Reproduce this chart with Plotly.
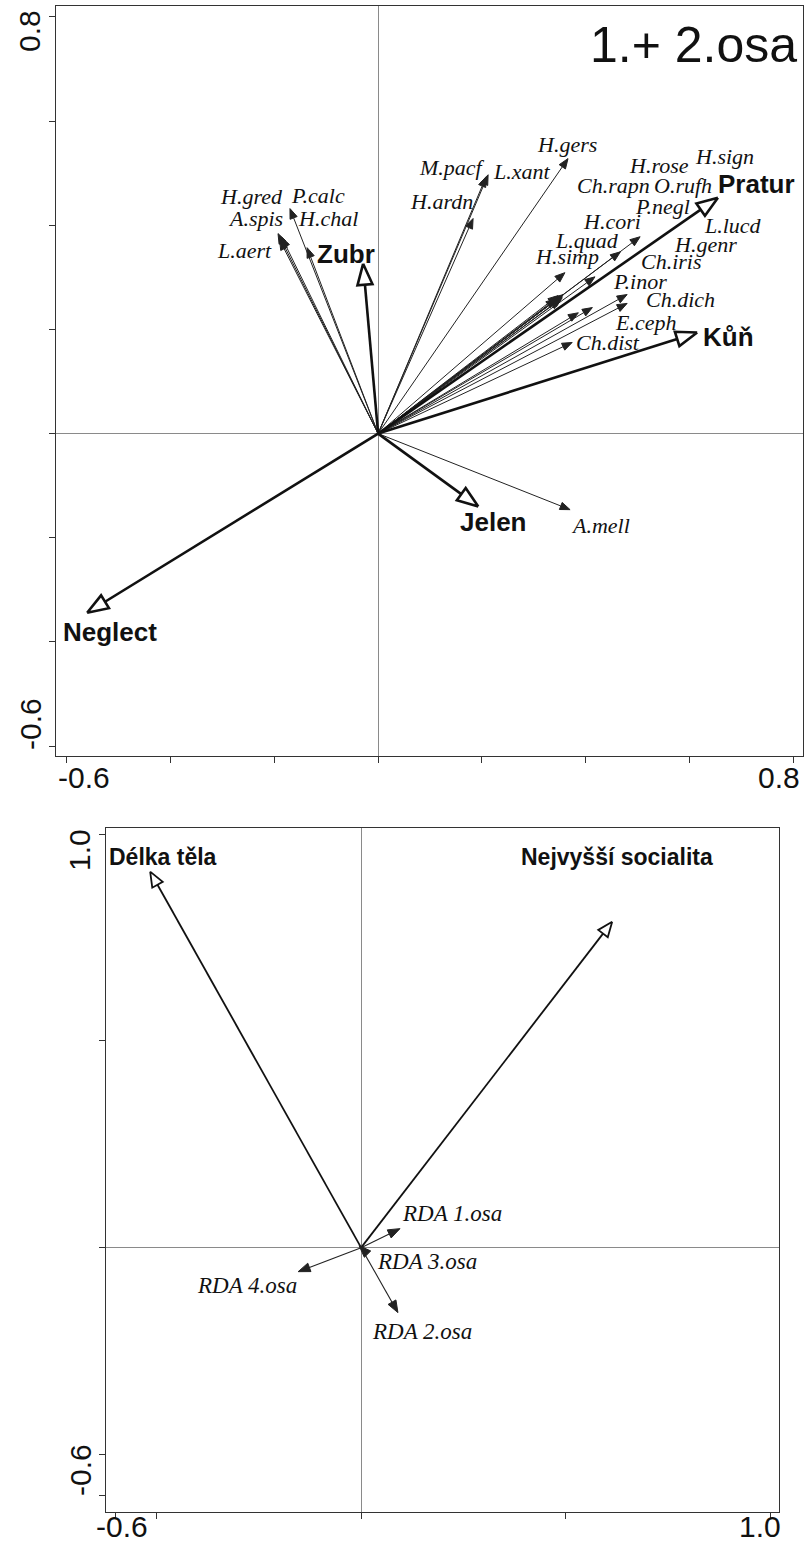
import math
import plotly.graph_objects as go

W, H = 804, 1544

# ---------------- DATA: top chart (1.+2. osa) ----------------
species = ["H.gred", "A.spis", "L.aert", "P.calc", "H.chal", "M.pacf", "L.xant", "H.ardn",
           "H.gers", "H.rose", "H.sign", "Ch.rapn", "O.rufh", "P.negl", "H.cori", "L.lucd",
           "L.quad", "H.genr", "H.simp", "Ch.iris", "P.inor", "Ch.dich", "E.ceph", "Ch.dist",
           "A.mell"]
species_x = [-0.193, -0.186, -0.190, -0.170, -0.137, 0.208, 0.212, 0.183,
             0.366, 0.355, 0.343, 0.357, 0.351, 0.351, 0.505, 0.413,
             0.467, 0.347, 0.360, 0.418, 0.480, 0.480, 0.386, 0.374,
             0.370]
species_y = [0.384, 0.377, 0.372, 0.432, 0.357, 0.493, 0.497, 0.413,
             0.528, 0.261, 0.259, 0.267, 0.257, 0.263, 0.378, 0.242,
             0.349, 0.265, 0.309, 0.301, 0.267, 0.250, 0.232, 0.175,
             -0.146]

env = ["Zubr", "Pratur", "Kůň", "Jelen", "Neglect"]
env_x = [-0.029, 0.655, 0.615, 0.193, -0.561]
env_y = [0.326, 0.453, 0.194, -0.140, -0.344]

top_ticks = [-0.6, -0.4, -0.2, 0.0, 0.2, 0.4, 0.6, 0.8]
top_labels = ["-0.6", "0.8"]
title_text = "1.+ 2.osa"

# ---------------- DATA: bottom chart ----------------
traits = ["Délka těla", "Nejvyšší socialita"]
traits_x = [-0.516, 0.614]
traits_y = [0.909, 0.788]

axes_vars = ["RDA 1.osa", "RDA 2.osa", "RDA 3.osa", "RDA 4.osa"]
axes_x = [0.095, 0.090, -0.005, -0.154]
axes_y = [0.046, -0.157, 0.005, -0.058]

bot_ticks = [-0.6, -0.5, 0.0, 0.5, 1.0]
bot_labels = ["-0.6", "1.0"]

# ---------------- label offsets (pixels: right, down) ----------------
species_off = [(-27, -37), (-26, -19), (-35, 11), (28, -13), (21, -29), (-34, -9), (34, -3),
               (-32, -17), (-1, -14), (97, -132), (168, -142), (50, -109), (123, -114),
               (102, -90), (-28, -15), (141, -82), (-33, -11), (147, -51), (2, -16),
               (77, -15), (13, -13), (53, -4), (67, 10), (36, 0), (30, 16)]
env_off = [(-17, -10), (39, -14), (31, 4), (15, 15), (23, 19)]
traits_off = [(13, -15), (5, -65)]
axes_off = [(52, -15), (24, 19), (68, 16), (-51, 14)]

# ---------------- layout geometry ----------------
top_px = dict(l=56, r=803, t=6, b=756)
top_xr = [-0.621, 0.819]
top_yr = [-0.619, 0.821]
bot_px = dict(l=106, r=779, t=828, b=1512)
bot_xr = [-0.624, 1.022]
bot_yr = [-0.639, 1.0145]


def scales(px, xr, yr):
    sx = (px["r"] - px["l"]) / (xr[1] - xr[0])
    sy = (px["b"] - px["t"]) / (yr[1] - yr[0])
    return sx, sy


fig = go.Figure()


def arrow(xa, ya, sx, sy, x1, y1, lw, hl, hw, hollow, color="#111"):
    dxp, dyp = x1 * sx, y1 * sy
    L = math.hypot(dxp, dyp)
    if L == 0:
        return
    ux, uy = dxp / L, dyp / L
    nx, ny = -uy, ux
    bx, by = dxp - ux * hl, dyp - uy * hl
    lx, ly = bx + nx * hw, by + ny * hw
    rx, ry = bx - nx * hw, by - ny * hw
    end = (bx / sx, by / sy) if L > hl else (0, 0)
    fig.add_trace(go.Scatter(x=[0, end[0]], y=[0, end[1]], mode="lines",
                             line=dict(color=color, width=lw), xaxis=xa, yaxis=ya,
                             hoverinfo="skip", showlegend=False))
    fig.add_trace(go.Scatter(x=[x1, lx / sx, rx / sx, x1], y=[y1, ly / sy, ry / sy, y1],
                             mode="lines", fill="toself",
                             fillcolor="white" if hollow else color,
                             line=dict(color=color, width=lw if hollow else 1),
                             xaxis=xa, yaxis=ya, hoverinfo="skip", showlegend=False))


sxt, syt = scales(top_px, top_xr, top_yr)
sxb, syb = scales(bot_px, bot_xr, bot_yr)

for x, y in zip(species_x, species_y):
    arrow("x", "y", sxt, syt, x, y, 1, 10, 3.8, False, "#222")
for x, y in zip(env_x, env_y):
    arrow("x", "y", sxt, syt, x, y, 2.6, 21, 7.5, True, "#111")
for x, y in zip(traits_x, traits_y):
    arrow("x2", "y2", sxb, syb, x, y, 1.8, 15, 6, True, "#111")
for x, y in zip(axes_x, axes_y):
    arrow("x2", "y2", sxb, syb, x, y, 1.1, 12, 4.5, False, "#222")

ann = []
serif = dict(family="Liberation Serif, Times New Roman, serif", size=22, color="#111")
bold = dict(family="Liberation Sans, Arial, sans-serif", size=26, color="#111")

for n, x, y, (ox, oy) in zip(species, species_x, species_y, species_off):
    ann.append(dict(x=x, y=y, xref="x", yref="y", text=f"<i>{n}</i>", showarrow=False,
                    xshift=ox, yshift=-oy, font=serif))
for n, x, y, (ox, oy) in zip(env, env_x, env_y, env_off):
    ann.append(dict(x=x, y=y, xref="x", yref="y", text=f"<b>{n}</b>", showarrow=False,
                    xshift=ox, yshift=-oy, font=bold))
for n, x, y, (ox, oy) in zip(traits, traits_x, traits_y, traits_off):
    ann.append(dict(x=x, y=y, xref="x2", yref="y2", text=f"<b>{n}</b>", showarrow=False,
                    xshift=ox, yshift=-oy, font=dict(bold, size=23)))
for n, x, y, (ox, oy) in zip(axes_vars, axes_x, axes_y, axes_off):
    ann.append(dict(x=x, y=y, xref="x2", yref="y2", text=f"<i>{n}</i>", showarrow=False,
                    xshift=ox, yshift=-oy, font=dict(serif, size=23)))

# title
ann.append(dict(x=693 / W, y=1 - 45 / H, xref="paper", yref="paper", text=title_text,
                xanchor="center", yanchor="middle", showarrow=False,
                font=dict(family="Liberation Sans, Arial, sans-serif", size=50, color="#111")))

tickfont = dict(family="Liberation Sans Narrow, Liberation Sans, Arial, sans-serif",
                size=30, color="#111")


def plabel(px, py, text, angle=0):
    ann.append(dict(x=px / W, y=1 - py / H, xref="paper", yref="paper", text=text,
                    showarrow=False, textangle=angle, font=tickfont,
                    xanchor="center", yanchor="middle"))


plabel(84, 777, top_labels[0])
plabel(779, 777, top_labels[1])
plabel(30, 31, top_labels[1], -90)
plabel(30, 724, top_labels[0], -90)
plabel(122, 1526, bot_labels[0])
plabel(760, 1526, bot_labels[1])
plabel(80, 850, bot_labels[1], -90)
plabel(80, 1470, bot_labels[0], -90)

axcommon = dict(showgrid=False, zeroline=True, zerolinecolor="#8a8a8a", zerolinewidth=1,
                showline=True, linecolor="#333", linewidth=1.2, mirror=True,
                ticks="outside", ticklen=6, tickcolor="#333", tickwidth=1,
                showticklabels=False, fixedrange=True)

fig.update_layout(
    width=W, height=H, margin=dict(l=0, r=0, t=0, b=0),
    paper_bgcolor="white", plot_bgcolor="white", showlegend=False,
    xaxis=dict(axcommon, domain=[top_px["l"] / W, top_px["r"] / W], range=top_xr,
               tickvals=top_ticks, anchor="y"),
    yaxis=dict(axcommon, domain=[1 - top_px["b"] / H, 1 - top_px["t"] / H], range=top_yr,
               tickvals=top_ticks, anchor="x"),
    xaxis2=dict(axcommon, domain=[bot_px["l"] / W, bot_px["r"] / W], range=bot_xr,
                tickvals=bot_ticks, anchor="y2"),
    yaxis2=dict(axcommon, domain=[1 - bot_px["b"] / H, 1 - bot_px["t"] / H], range=bot_yr,
                tickvals=bot_ticks, anchor="x2"),
    annotations=ann,
)

fig.write_html("out.html", config={"displayModeBar": False},
               post_script="document.body.style.margin='0px';document.body.style.overflow='hidden';")
